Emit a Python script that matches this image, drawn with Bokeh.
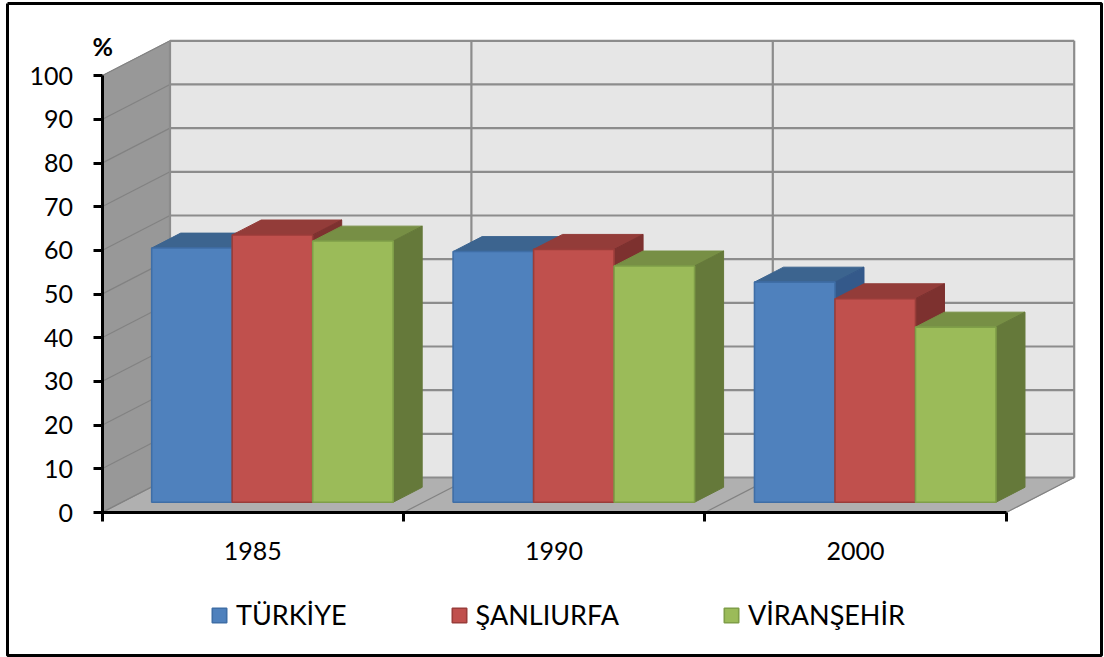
from bokeh.plotting import figure
from bokeh.models import FixedTicker, Legend, LegendItem, Range1d
from bokeh.core.properties import value
from bokeh.embed import file_html
from bokeh.resources import INLINE

categories = ["1985", "1990", "2000"]
y_ticks = [0, 10, 20, 30, 40, 50, 60, 70, 80, 90, 100]
series_names = ["TÜRKİYE", "ŞANLIURFA", "VİRANŞEHİR"]
turkiye = [58.2, 57.4, 50.4]
sanliurfa = [61.2, 57.9, 46.6]
viransehir = [59.8, 54.1, 40.1]
all_series = [turkiye, sanliurfa, viransehir]

front_cols = ["#4F81BD", "#C0504D", "#9BBB59"]
edge_cols = ["#3F6EA6", "#9A3D3A", "#7F9E48"]
top_cols = ["#3C648F", "#933C39", "#778F45"]
side_cols = ["#34598A", "#7D312F", "#65793A"]

# Geometry of the oblique projection, in data units
PX_PER_CAT = 301.4
PX_PER_PCT = 4.367
DX = 68 / PX_PER_CAT
DY = 35 / PX_PER_PCT
D_FRONT, D_BACK = 20 / 68, 49 / 68
GAP = 0.0985
N = len(categories)
BAR_W = 80.5 / PX_PER_CAT
W, H = 1104, 657
X0_PX, Y0_PX = 101.5, 512


def pr(x, y, d):
    return x + d * DX, y + d * DY


def poly(points):
    pts = [pr(*pt) for pt in points]
    return [a for a, _ in pts], [b for _, b in pts]


p = figure(width=W, height=H, output_backend="svg", toolbar_location=None,
           x_range=Range1d(-X0_PX / PX_PER_CAT, (W - X0_PX) / PX_PER_CAT),
           y_range=Range1d((Y0_PX - H) / PX_PER_PCT, Y0_PX / PX_PER_PCT),
           min_border=0, background_fill_color="white", border_fill_color="white")
p.grid.visible = False
p.outline_line_color = None

ymax = y_ticks[-1]
# outer frame
px = lambda v: (v - X0_PX) / PX_PER_CAT
py = lambda v: (Y0_PX - v) / PX_PER_PCT
p.line([px(7), px(1101), px(1101), px(7), px(7)], [py(3), py(3), py(655), py(655), py(3)],
       line_color="black", line_width=3)

# walls and floor
for pts, col in [
    ([(0, 0, 0), (0, ymax, 0), (0, ymax, 1), (0, 0, 1)], "#989898"),
    ([(0, 0, 1), (0, ymax, 1), (N, ymax, 1), (N, 0, 1)], "#E6E6E6"),
    ([(0, 0, 0), (N, 0, 0), (N, 0, 1), (0, 0, 1)], "#B0B0B0"),
]:
    xs, ys = poly(pts)
    p.patch(xs, ys, fill_color=col, line_color=col, line_width=1)

# grid on the walls
for v in y_ticks:
    xs, ys = poly([(0, v, 0), (0, v, 1)])
    p.line(xs, ys, line_color="#828282", line_width=1.2)
    xs, ys = poly([(0, v, 1), (N, v, 1)])
    p.line(xs, ys, line_color="#8C8C8C", line_width=2.2)
for i in range(N + 1):
    xs, ys = poly([(i, 0, 1), (i, ymax, 1)])
    p.line(xs, ys, line_color="#8C8C8C", line_width=2.2)
    xs, ys = poly([(i, 0, 0), (i, 0, 1)])
    p.line(xs, ys, line_color="#828282", line_width=1.2)

# bars
legend_refs = [None, None, None]
for g in range(N):
    for s, vals in enumerate(all_series):
        v = vals[g]
        x0 = g + GAP + s * BAR_W
        x1 = x0 + BAR_W
        df, db = D_FRONT, D_BACK
        xs, ys = poly([(x0, v, df), (x1, v, df), (x1, v, db), (x0, v, db)])
        p.patch(xs, ys, fill_color=top_cols[s], line_color=top_cols[s], line_width=1)
        xs, ys = poly([(x1, 0, df), (x1, v, df), (x1, v, db), (x1, 0, db)])
        p.patch(xs, ys, fill_color=side_cols[s], line_color=side_cols[s], line_width=1)
        xs, ys = poly([(x0, 0, df), (x0, v, df), (x1, v, df), (x1, 0, df)])
        r = p.patch(xs, ys, fill_color=front_cols[s], line_color=edge_cols[s], line_width=1.6)
        if legend_refs[s] is None:
            legend_refs[s] = r

# axes
centres = [i + 0.5 for i in range(N)]
xa = p.xaxis[0]
xa.fixed_location = 0
xa.ticker = FixedTicker(ticks=centres, minor_ticks=list(range(N + 1)))
xa.major_label_overrides = {c: t for c, t in zip(centres, categories)}
xa.bounds = (0, N)
xa.axis_line_color = "black"
xa.axis_line_width = 3
xa.major_tick_line_color = None
xa.minor_tick_line_color = "black"
xa.minor_tick_line_width = 3
xa.minor_tick_out = 9
xa.minor_tick_in = 0
xa.major_tick_out = 0
xa.major_tick_in = 0
xa.major_label_standoff = 20
xa.major_label_text_font = "Lato"
xa.major_label_text_font_size = "25px"
xa.major_label_text_color = "black"

ya = p.yaxis[0]
ya.fixed_location = 0
ya.ticker = FixedTicker(ticks=y_ticks, minor_ticks=[])
ya.bounds = (0, ymax)
ya.axis_line_color = "black"
ya.axis_line_width = 3
ya.major_tick_line_color = "black"
ya.major_tick_line_width = 3
ya.major_tick_out = 9
ya.major_tick_in = 0
ya.major_label_standoff = 20
ya.major_label_text_font = "Lato"
ya.major_label_text_font_size = "25px"
ya.major_label_text_color = "black"

# unit mark above the axis
p.text([0], [ymax], text=["%"], x_offset=11, y_offset=-15, text_align="right", text_baseline="bottom",
       text_font=value("Lato"), text_font_style="bold", text_font_size="25px", text_color="black")

# legend
legend = Legend(items=[LegendItem(label=n, renderers=[r]) for n, r in zip(series_names, legend_refs)],
                orientation="horizontal", location=(210, 26), glyph_width=18, glyph_height=18,
                label_standoff=8, spacing=103, padding=0, margin=0,
                border_line_color=None, background_fill_color=None,
                label_text_font="Lato", label_text_font_size="27px", label_text_color="black")
p.add_layout(legend, "center")

open("out.html", "w").write(file_html(p, INLINE))
